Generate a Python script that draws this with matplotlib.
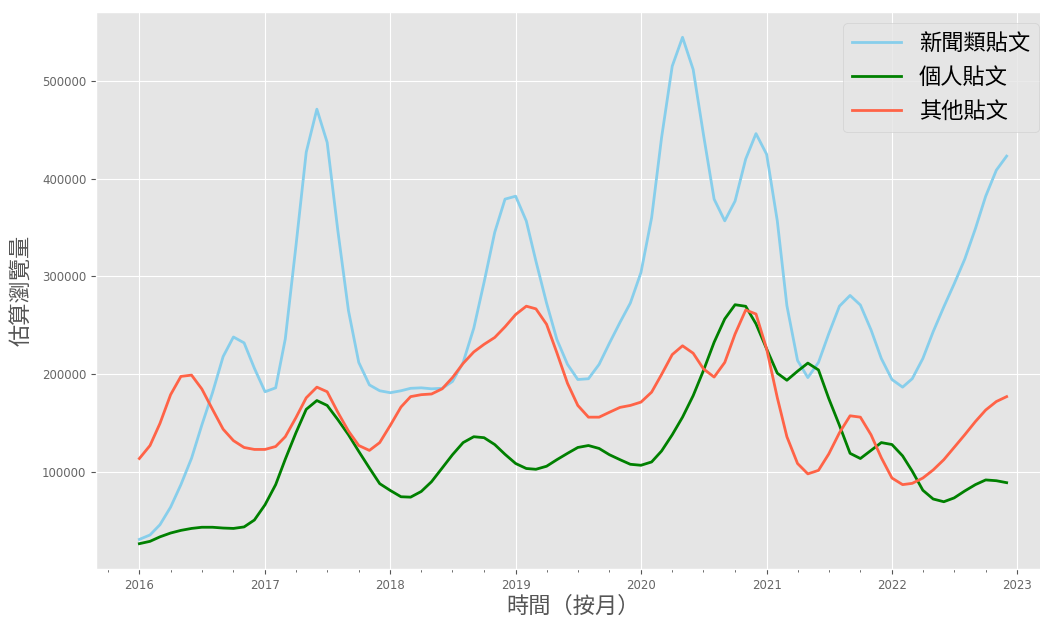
import matplotlib
matplotlib.use("Agg")
import matplotlib.pyplot as plt
import matplotlib.dates as mdates
import pandas as pd

# monthly estimated views, Jan 2016 - Dec 2022
months = pd.date_range("2016-01-01", "2022-12-01", freq="MS")

news_posts = [
    31000, 35500, 46000, 64000, 87000, 114000, 148000, 181000, 218000, 238000, 232000, 206000,
    182000, 186000, 236000, 331000, 427000, 471000, 437000, 347000, 265000, 212000, 189000, 183000,
    181000, 183000, 185500, 186000, 185000, 185500, 192500, 212000, 247000, 294000, 345000, 379000,
    382000, 356600, 315600, 272700, 235500, 210000, 194500, 195300, 210000, 231600, 253000, 272700,
    304000, 360000, 442000, 515000, 544500, 511600, 445000, 379000, 356800, 377000, 420000, 446000,
    424800, 356800, 270000, 214000, 196500, 212000, 241400, 269500, 280500, 270700, 245300, 216000,
    194500, 186700, 195300, 216000, 243400, 268800, 292200, 317600, 348800, 382000, 408600, 423000,
]
personal_posts = [
    26600, 29000, 33600, 37500, 40200, 42200, 43400, 43400, 42600, 42200, 43750, 50800,
    66400, 87000, 113000, 140000, 164000, 173000, 168000, 153500, 138000, 121000, 104000, 88000,
    81000, 74600, 74200, 80000, 90000, 104000, 117600, 130000, 136000, 135000, 128000, 118000,
    108600, 103500, 102700, 105800, 112500, 119000, 125000, 127000, 124000, 117600, 112500, 107800,
    106800, 110200, 121400, 138000, 156000, 178000, 203700, 232600, 256500, 271000, 269400, 251400,
    225800, 201000, 193750, 203000, 211300, 204300, 175000, 147700, 119000, 113700, 122000, 130000,
    128000, 116400, 100800, 81250, 72300, 69500, 73400, 80500, 87000, 91800, 91000, 89000,
]
other_posts = [
    113700, 127000, 149600, 179000, 197700, 199000, 184800, 164000, 143700, 132000, 125000, 123000,
    123000, 126000, 136000, 155500, 175800, 186700, 182000, 161000, 141800, 127000, 122000, 130000,
    147700, 166400, 177000, 179000, 179700, 185000, 196500, 211000, 222700, 230500, 237500, 248400,
    261000, 269500, 266800, 251000, 221900, 190600, 168000, 156000, 156000, 161000, 166000, 168000,
    171400, 181600, 199700, 220000, 229000, 221400, 205400, 197000, 212000, 241000, 265600, 261500,
    225800, 176000, 136000, 108600, 98000, 101600, 118400, 140000, 157400, 156000, 138000, 114500,
    93750, 87000, 88300, 93750, 102000, 112500, 125000, 138000, 151500, 163300, 172000, 177000,
]

plt.style.use("ggplot")
plt.rcParams["font.family"] = ["Noto Sans CJK TC", "DejaVu Sans"]

fig = plt.figure(figsize=(10.4, 6.18), dpi=100)
ax = fig.add_axes([96 / 1040, 49 / 618, 954 / 1040, 557 / 618])

ax.plot(months, news_posts, color="skyblue", linewidth=2, label="新聞類貼文")
ax.plot(months, personal_posts, color="green", linewidth=2, label="個人貼文")
ax.plot(months, other_posts, color="tomato", linewidth=2, label="其他貼文")

ax.xaxis.set_major_locator(mdates.YearLocator())
ax.xaxis.set_major_formatter(mdates.DateFormatter("%Y"))
ax.xaxis.set_minor_locator(mdates.MonthLocator(bymonth=[4, 7, 10]))
ax.tick_params(axis="both", which="major", labelsize=8.5, labelcolor="#666666")
ax.tick_params(axis="x", which="minor", length=2)
for lab in ax.get_xticklabels() + ax.get_yticklabels():
    lab.set_family("DejaVu Sans")

ax.set_xlabel("時間（按月）", fontsize=16, color="#555555", labelpad=2)
ax.set_ylabel("估算瀏覽量", fontsize=16, color="#555555", labelpad=6)
ax.legend(fontsize=16, loc="upper right", handlelength=2.2)

fig.savefig("out.png", dpi=100)
